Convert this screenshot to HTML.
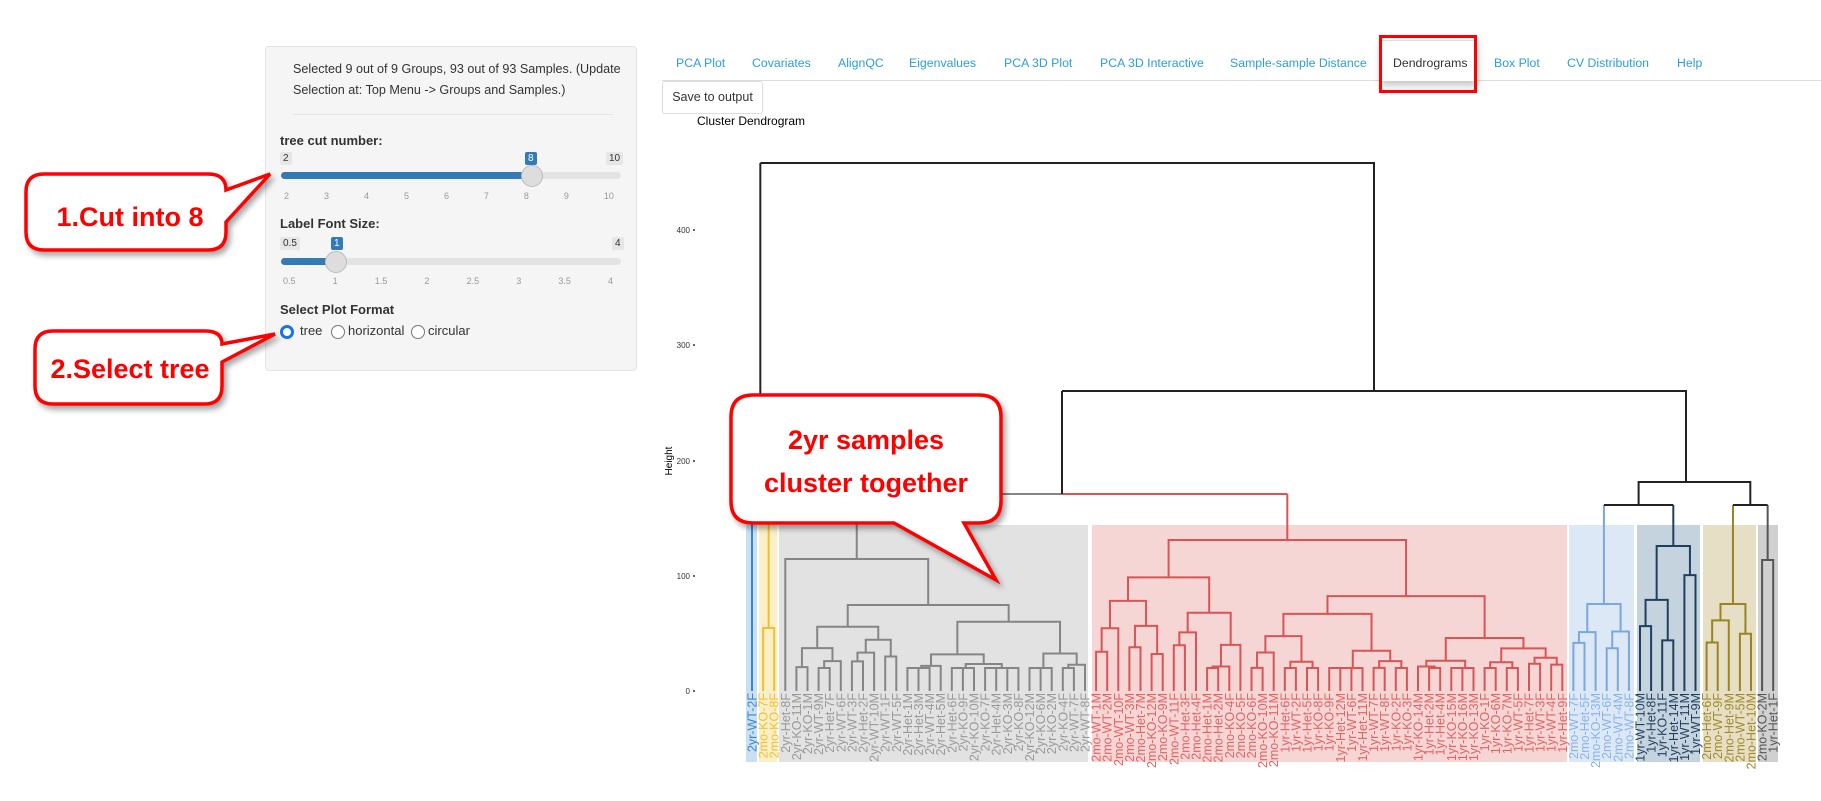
<!DOCTYPE html>
<html><head><meta charset="utf-8">
<style>
body{margin:0;width:1821px;height:801px;background:#fff;overflow:hidden;font-family:"Liberation Sans",sans-serif;position:relative}
.abs{position:absolute;white-space:nowrap}
.panel{position:absolute;left:265px;top:46px;width:370px;height:323px;background:#f5f5f5;border:1px solid #e3e3e3;border-radius:4px}
.tab{position:absolute;top:56px;font-size:12.3px;color:#2a9fd6}
.lab{font-size:13px;font-weight:bold;color:#333}
.mm{font-size:10px;color:#333;background:#e6e6e6;padding:1px 3px;border-radius:2px}
</style></head><body>
<div class="panel"></div>
<div class="abs" style="left:293px;top:59px;font-size:12.6px;color:#333;line-height:21px">Selected 9 out of 9 Groups, 93 out of 93 Samples. (Update<br>Selection at: Top Menu -&gt; Groups and Samples.)</div>
<div class="abs" style="left:293px;top:114px;width:320px;border-top:1px solid #e5e5e5"></div>
<div class="abs lab" style="left:280px;top:133px">tree cut number:</div>
<div class="abs mm" style="left:280px;top:152px">2</div>
<div class="abs mm" style="left:606px;top:152px">10</div>
<div class="abs mm" style="left:525px;top:152px;background:#337ab7;color:#fff">8</div>
<div class="abs" style="left:281px;top:172px;width:340px;height:7px;border-radius:4px;background:#e3e3e3"></div>
<div class="abs" style="left:281px;top:172px;width:250px;height:7px;border-radius:4px;background:#337ab7"></div>
<div class="abs" style="left:521px;top:165px;width:20px;height:20px;border-radius:50%;background:#ddd;border:1px solid #bbb"></div>
<div class="abs" style="left:284px;top:191px;width:330px;font-size:9px;color:#999;display:flex;justify-content:space-between"><span>2</span><span>3</span><span>4</span><span>5</span><span>6</span><span>7</span><span>8</span><span>9</span><span>10</span></div>
<div class="abs lab" style="left:280px;top:216px">Label Font Size:</div>
<div class="abs mm" style="left:280px;top:237px">0.5</div>
<div class="abs mm" style="left:612px;top:237px">4</div>
<div class="abs mm" style="left:331px;top:237px;background:#337ab7;color:#fff">1</div>
<div class="abs" style="left:281px;top:258px;width:340px;height:7px;border-radius:4px;background:#e3e3e3"></div>
<div class="abs" style="left:281px;top:258px;width:54px;height:7px;border-radius:4px;background:#337ab7"></div>
<div class="abs" style="left:325px;top:251px;width:20px;height:20px;border-radius:50%;background:#ddd;border:1px solid #bbb"></div>
<div class="abs" style="left:283px;top:276px;width:330px;font-size:9px;color:#999;display:flex;justify-content:space-between"><span>0.5</span><span>1</span><span>1.5</span><span>2</span><span>2.5</span><span>3</span><span>3.5</span><span>4</span></div>
<div class="abs lab" style="left:280px;top:302px">Select Plot Format</div>
<div class="abs" style="left:280px;top:325px;width:8px;height:8px;border-radius:50%;border:3px solid #1a73e8;background:#fff"></div>
<div class="abs" style="left:300px;top:323px;font-size:13px;color:#333">tree</div>
<div class="abs" style="left:331px;top:325px;width:12px;height:12px;border-radius:50%;border:1px solid #777;background:#fff"></div>
<div class="abs" style="left:348px;top:323px;font-size:13px;color:#333">horizontal</div>
<div class="abs" style="left:411px;top:325px;width:12px;height:12px;border-radius:50%;border:1px solid #777;background:#fff"></div>
<div class="abs" style="left:428px;top:323px;font-size:13px;color:#333">circular</div>

<div class="abs" style="left:662px;top:80px;width:1159px;border-top:1px solid #ddd"></div>
<div class="abs" style="left:1381px;top:40px;width:94px;height:40px;background:#fff;border:1px solid #ddd;border-bottom:none;box-shadow:0 4px 8px rgba(0,0,0,0.25)"></div>
<div class="abs" style="left:1379px;top:35px;width:92px;height:52px;border:3px solid #f00"></div>
<div class="tab abs" style="left:676px">PCA Plot</div>
<div class="tab abs" style="left:752px">Covariates</div>
<div class="tab abs" style="left:838px">AlignQC</div>
<div class="tab abs" style="left:909px">Eigenvalues</div>
<div class="tab abs" style="left:1004px">PCA 3D Plot</div>
<div class="tab abs" style="left:1100px">PCA 3D Interactive</div>
<div class="tab abs" style="left:1230px">Sample-sample Distance</div>
<div class="tab abs" style="left:1393px;color:#333">Dendrograms</div>
<div class="tab abs" style="left:1494px">Box Plot</div>
<div class="tab abs" style="left:1567px">CV Distribution</div>
<div class="tab abs" style="left:1677px">Help</div>
<div class="abs" style="left:662px;top:81px;width:99px;height:31px;border:1px solid #ddd;border-radius:3px;font-size:12.5px;color:#333;line-height:31px;text-align:center">Save to output</div>
<div class="abs" style="left:697px;top:114px;font-size:12px;color:#000">Cluster Dendrogram</div>

<svg id="sv" class="abs" style="left:0;top:0" width="1821" height="801" xmlns="http://www.w3.org/2000/svg">
<g font-family="Liberation Sans, sans-serif" font-size="8" fill="#333" text-anchor="end">
<text x="690" y="694">0</text><text x="690" y="579">100</text><text x="690" y="464">200</text><text x="690" y="348">300</text><text x="690" y="233">400</text>
</g>
<g fill="#333"><circle cx="694" cy="691" r="1"/><circle cx="694" cy="576" r="1"/><circle cx="694" cy="461" r="1"/><circle cx="694" cy="345" r="1"/><circle cx="694" cy="230" r="1"/></g>
<text transform="translate(672,461) rotate(-90)" font-family="Liberation Sans, sans-serif" font-size="10" text-anchor="middle">Height</text>
<g id="rects"></g>
<g id="lines" fill="none" stroke-width="2"></g>
<g id="labels" font-family="Liberation Sans, sans-serif" font-size="12.5" text-anchor="end">
<text>2yr-WT-2F</text><text>2mo-KO-7F</text><text>2mo-KO-8F</text>
<text>2yr-Het-8F</text><text>2yr-KO-11M</text><text>2yr-KO-1M</text><text>2yr-WT-9M</text><text>2yr-Het-7F</text><text>2yr-WT-6F</text><text>2yr-WT-3F</text><text>2yr-Het-2F</text><text>2yr-WT-10M</text><text>2yr-WT-1F</text><text>2yr-WT-5F</text><text>2yr-Het-1M</text><text>2yr-Het-3M</text><text>2yr-WT-4M</text><text>2yr-Het-5M</text><text>2yr-Het-6F</text><text>2yr-KO-9F</text><text>2yr-KO-10M</text><text>2yr-KO-7F</text><text>2yr-Het-4M</text><text>2yr-KO-3M</text><text>2yr-KO-8F</text><text>2yr-KO-12M</text><text>2yr-KO-6M</text><text>2yr-KO-2M</text><text>2yr-KO-4F</text><text>2yr-WT-7F</text><text>2yr-WT-8F</text>
<text>2mo-WT-1M</text><text>2mo-WT-2M</text><text>2mo-WT-10F</text><text>2mo-WT-3M</text><text>2mo-Het-7M</text><text>2mo-KO-12M</text><text>2mo-KO-9M</text><text>2mo-WT-11F</text><text>2mo-Het-3F</text><text>2mo-Het-4F</text><text>2mo-Het-1M</text><text>2mo-Het-2M</text><text>2mo-KO-4F</text><text>2mo-KO-5F</text><text>2mo-KO-6F</text><text>2mo-KO-10M</text><text>2mo-KO-11M</text><text>1yr-Het-6F</text><text>1yr-WT-2F</text><text>1yr-Het-5F</text><text>1yr-KO-8F</text><text>1yr-KO-9F</text><text>1yr-Het-12M</text><text>1yr-WT-6F</text><text>1yr-Het-11M</text><text>1yr-WT-7F</text><text>1yr-WT-8F</text><text>1yr-KO-2F</text><text>1yr-KO-3F</text><text>1yr-KO-14M</text><text>1yr-Het-2M</text><text>1yr-Het-4M</text><text>1yr-KO-15M</text><text>1yr-KO-16M</text><text>1yr-KO-13M</text><text>1yr-KO-1F</text><text>1yr-KO-6M</text><text>1yr-KO-7M</text><text>1yr-WT-5F</text><text>1yr-Het-7F</text><text>1yr-WT-3F</text><text>1yr-WT-4F</text><text>1yr-Het-9F</text>
<text>2mo-WT-7F</text><text>2mo-Het-5F</text><text>2mo-KO-13M</text><text>2mo-WT-6F</text><text>2mo-WT-4M</text><text>2mo-WT-8F</text>
<text>1yr-WT-10M</text><text>1yr-Het-8F</text><text>1yr-KO-11F</text><text>1yr-Het-14M</text><text>1yr-WT-11M</text><text>1yr-WT-9M</text>
<text>2mo-Het-6F</text><text>2mo-WT-9F</text><text>2mo-Het-9M</text><text>2mo-WT-5M</text><text>2mo-Het-10M</text>
<text>2mo-KO-2M</text><text>1yr-Het-1F</text>
</g>
<defs><filter id="sh" x="-10%" y="-10%" width="130%" height="140%"><feDropShadow dx="3" dy="4" stdDeviation="3" flood-color="#000" flood-opacity="0.35"/></filter></defs>
<g fill="#fff" stroke="#f00" stroke-width="3.5" filter="url(#sh)">
<path d="M44,174 H208 Q226,174 226,190 L270,174 L226,222 V232 Q226,250 208,250 H44 Q26,250 26,232 V192 Q26,174 44,174 Z"/>
<path d="M53,331 H205 Q222,331 222,344 L275,334 L222,362 V386 Q222,404 205,404 H53 Q35,404 35,386 V349 Q35,331 53,331 Z"/>
<path d="M753,395 H979 Q1001,395 1001,417 V501 Q1001,523 979,523 H964 L996,580 L894,523 H753 Q731,523 731,501 V417 Q731,395 753,395 Z"/>
</g>
<g font-family="Liberation Sans, sans-serif" font-weight="bold" fill="#f00" text-anchor="middle">
<text x="130" y="226" font-size="27">1.Cut into 8</text>
<text x="130" y="378" font-size="27">2.Select tree</text>
<text x="866" y="449" font-size="27">2yr samples</text>
<text x="866" y="492" font-size="27">cluster together</text>
</g>
</svg>
<script>
(function(){
var NS="http://www.w3.org/2000/svg";
function X(i){return 752+11.1*i;}
var cl=[[0,0,"#3a87c8","#c9dff2",746,757],[1,2,"#f0c030","#fbefc8",759,777],[3,30,"#858585","#e2e2e2",779,1088],[31,73,"#d95555","#f6d5d5",1092,1567],[74,79,"#7aa7dd","#dde8f6",1569,1634],[80,85,"#1f3f5f","#c5d3de",1637,1700],[86,90,"#9a8420","#e6dfc6",1703,1756],[91,92,"#555555","#d0d0d0",1758,1778]];
var labs=document.getElementById("labels").children;
var lc=["#3a87c8","#f0c030","#999","#e06464","#8ab4e6","#1f3f5f","#a08a28","#555"];
var R=document.getElementById("rects"),L=document.getElementById("lines");
cl.forEach(function(c,k){var r=document.createElementNS(NS,"rect");r.setAttribute("x",c[4]);r.setAttribute("y",525);r.setAttribute("width",c[5]-c[4]);r.setAttribute("height",237);r.setAttribute("fill",c[3]);R.appendChild(r);
for(var i=c[0];i<=c[1];i++){labs[i].setAttribute("transform","translate("+(X(i)+4.5)+",693) rotate(-90)");labs[i].setAttribute("fill",lc[k]);}});
var s=7;function rnd(){s=(s*9301+49297)%233280;return s/233280;}
function ln(d,col){var p=document.createElementNS(NS,"path");p.setAttribute("d",d);p.setAttribute("stroke",col);L.appendChild(p);}
function build(l,r,top,col,fm){if(l==r)return{x:X(l),y:691};
var n=r-l+1;var m=(fm!==undefined)?fm:l+Math.max(0,Math.min(n-2,Math.floor(n*(0.3+rnd()*0.35))));
function ch(a,b){if(a==b)return build(a,b,0,col);var t=top+(691-top)*(0.18+rnd()*0.3);if(t>668)t=668;return build(a,b,t,col);}
var A=ch(l,m),B=ch(m+1,r);
ln("M"+A.x+","+A.y+"V"+top+"H"+B.x+"V"+B.y,col);return{x:(A.x+B.x)/2,y:top};}
var K="#222";
var blue={x:X(0),y:691};
var yel=build(1,2,628,cl[1][2]);
ln("M"+blue.x+",691V505",cl[0][2]);ln("M"+yel.x+","+yel.y+"V505",cl[1][2]);
ln("M"+blue.x+",505H"+yel.x,K);var rootL=(blue.x+yel.x)/2;ln("M"+rootL+",505V163",K);
var g=build(3,30,559,cl[2][2],3);var rd=build(31,73,540,cl[3][2],44);
ln("M"+g.x+","+g.y+"V494",cl[2][2]);ln("M"+rd.x+","+rd.y+"V494",cl[3][2]);
var gm=1062;ln("M"+g.x+",494H"+gm,cl[2][2]);ln("M"+gm+",494H"+rd.x,cl[3][2]);
ln("M"+gm+",494V391",K);
var lb=build(74,79,604,cl[4][2]),nv=build(80,85,546,cl[5][2]),ol=build(86,90,604,cl[6][2]),g2=build(91,92,560,cl[7][2]);
ln("M"+lb.x+","+lb.y+"V505",cl[4][2]);ln("M"+nv.x+","+nv.y+"V505",cl[5][2]);ln("M"+ol.x+","+ol.y+"V505",cl[6][2]);ln("M"+g2.x+","+g2.y+"V505",cl[7][2]);
ln("M"+lb.x+",505H"+nv.x,K);ln("M"+ol.x+",505H"+g2.x,K);
var a=(lb.x+nv.x)/2,b=(ol.x+g2.x)/2;ln("M"+a+",505V482H"+b+"V505",K);
var rm=1686;ln("M"+rm+",482V391H"+gm,K);var rr=1374;ln("M"+rr+",391V163H"+rootL,K);
})();
</script>
</body></html>
